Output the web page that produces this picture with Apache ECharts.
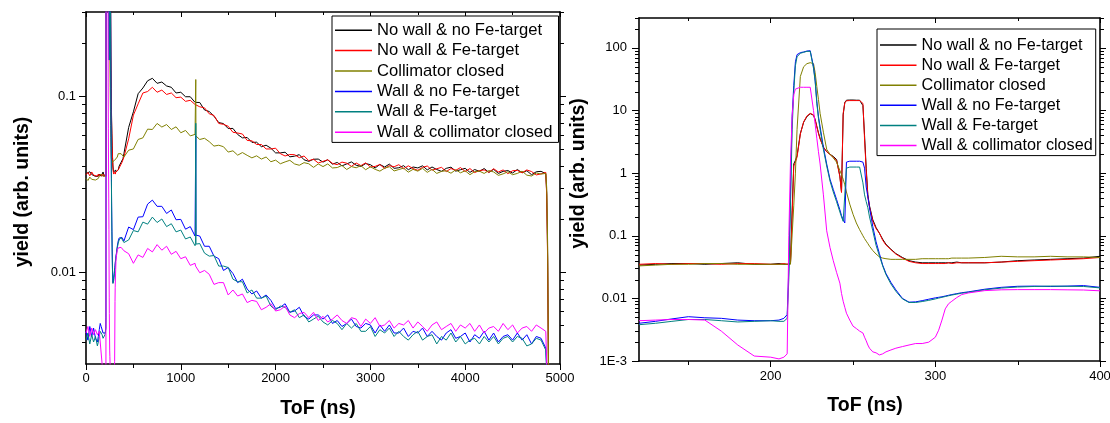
<!DOCTYPE html>
<html>
<head>
<meta charset="utf-8">
<script src="https://cdn.jsdelivr.net/npm/echarts@6/dist/echarts.min.js"></script>
<style>
  html, body { margin: 0; padding: 0; background: #ffffff; }
  #chart { width: 1110px; height: 423px; }
</style>
</head>
<body>
<div id="chart"></div>
<script>
// ---------------------------------------------------------------
// Time-of-flight spectra, six measurement configurations.
// Left panel: full range 0-5000 ns; right panel: zoom 120-400 ns.
// ---------------------------------------------------------------

const seriesNames = [
  'No wall & no Fe-target',
  'No wall & Fe-target',
  'Collimator closed',
  'Wall & no Fe-target',
  'Wall & Fe-target',
  'Wall & collimator closed'
];

// ToF sampling points (ns)
const leftTofEarly = [0, 20, 40, 60, 80, 100];
const rightTof = [
  120, 130, 140, 150, 160, 170, 180, 190, 200, 205,
  208, 210, 211, 212, 213, 214, 215, 216, 218, 220,
  222, 224, 226, 227, 228, 229, 230, 232, 234, 236,
  238, 240, 242, 243, 244, 245, 246, 248, 250, 252,
  254, 255, 256, 257, 258, 259, 260, 262, 264, 266,
  268, 270, 273, 276, 280, 284, 288, 292, 296, 300,
  302, 304, 306, 308, 310, 313, 316, 320, 330, 340,
  350, 360, 370, 380, 390, 400
];
const leftTofLate = [
  450, 500, 550, 600, 650, 700, 750, 800, 850, 900,
  950, 1000, 1050, 1100, 1150, 1156, 1158, 1160, 1200, 1250,
  1300, 1350, 1400, 1450, 1500, 1550, 1600, 1650, 1700, 1750,
  1800, 1850, 1900, 1950, 2000, 2050, 2100, 2150, 2200, 2250,
  2300, 2350, 2400, 2450, 2500, 2550, 2600, 2650, 2700, 2750,
  2800, 2850, 2900, 2950, 3000, 3050, 3100, 3150, 3200, 3250,
  3300, 3350, 3400, 3450, 3500, 3550, 3600, 3650, 3700, 3750,
  3800, 3850, 3900, 3950, 4000, 4050, 4100, 4150, 4200, 4250,
  4300, 4350, 4400, 4450, 4500, 4550, 4600, 4650, 4700, 4750,
  4800, 4850, 4860, 4870, 4880
];

// --- No wall & no Fe-target ---
const noWallNoFeEarly = [0.0362, 0.0354, 0.0371, 0.0358, 0.0366, 0.0349];
const noWallNoFeFine = [
  0.034, 0.035, 0.036, 0.036, 0.035, 0.036, 0.037, 0.035, 0.035, 0.036,
  0.035, 0.035, 0.035, 0.036, 0.25, 1.4, 1.6, 1.9, 4.3, 6.5,
  8.0, 8.9, 8.4, 7.2, 5.6, 4.4, 3.6, 2.6, 2.2, 2.0,
  1.85, 1.65, 0.9, 0.5, 8.5, 13.5, 14.6, 14.7, 14.7, 14.6,
  14.6, 14.5, 12, 4, 1.2, 0.45, 0.3, 0.18, 0.135, 0.11,
  0.088, 0.073, 0.061, 0.052, 0.045, 0.040, 0.038, 0.037, 0.037, 0.037,
  0.037, 0.037, 0.037, 0.037, 0.037, 0.038, 0.037, 0.037, 0.037, 0.038,
  0.040, 0.041, 0.042, 0.043, 0.044, 0.047
];
const noWallNoFeLate = [
  0.0663, 0.0813, 0.103, 0.111, 0.122, 0.126, 0.118, 0.120, 0.114, 0.112,
  0.104, 0.105, 0.099, 0.099, 0.092, 0.093, 0.094, 0.092, 0.0918, 0.0833,
  0.0816, 0.0768, 0.0706, 0.0697, 0.0653, 0.0654, 0.0604, 0.0578, 0.0581, 0.0545,
  0.0546, 0.0515, 0.0525, 0.0505, 0.0475, 0.0475, 0.0479, 0.0451, 0.0455, 0.0464,
  0.0434, 0.0425, 0.0437, 0.0438, 0.0421, 0.0434, 0.0410, 0.0419, 0.0401, 0.0411,
  0.0422, 0.0404, 0.0398, 0.0413, 0.0407, 0.0390, 0.0408, 0.0395, 0.0410, 0.0388,
  0.0391, 0.0402, 0.0381, 0.0395, 0.0390, 0.0401, 0.0380, 0.0395, 0.0382, 0.0373,
  0.0388, 0.0394, 0.0374, 0.0381, 0.0388, 0.0368, 0.0382, 0.0373, 0.0387, 0.0368,
  0.0383, 0.0363, 0.0373, 0.0377, 0.0365, 0.0382, 0.0366, 0.0376, 0.0357, 0.0371,
  0.0373, 0.0362, 0.028, 0.012, 0.002
];

// --- No wall & Fe-target ---
const noWallFeEarly = [0.0357, 0.0368, 0.0352, 0.0370, 0.0355, 0.0364];
const noWallFeFine = [
  0.035, 0.036, 0.035, 0.036, 0.036, 0.035, 0.036, 0.036, 0.035, 0.035,
  0.036, 0.035, 0.036, 0.036, 0.2, 1.3, 1.5, 1.8, 4.2, 6.6,
  8.2, 9.0, 8.5, 7.0, 5.5, 4.3, 3.5, 2.6, 2.2, 2.0,
  1.8, 1.6, 0.88, 0.49, 9, 13.2, 14.3, 14.4, 14.4, 14.4,
  14.4, 14.3, 13, 3.5, 1.1, 0.42, 0.29, 0.17, 0.13, 0.11,
  0.085, 0.071, 0.060, 0.051, 0.044, 0.039, 0.037, 0.036, 0.036, 0.036,
  0.036, 0.036, 0.036, 0.037, 0.036, 0.037, 0.037, 0.037, 0.037, 0.038,
  0.039, 0.040, 0.041, 0.042, 0.043, 0.045
];
const noWallFeLate = [
  0.0571, 0.0778, 0.0902, 0.104, 0.106, 0.112, 0.105, 0.108, 0.102, 0.104,
  0.0978, 0.0985, 0.0932, 0.0945, 0.0895, 0.0905, 0.0900, 0.0908, 0.0868, 0.0856,
  0.0792, 0.0775, 0.0698, 0.0690, 0.0673, 0.0622, 0.0616, 0.0608, 0.0559, 0.0556,
  0.0530, 0.0530, 0.0500, 0.0500, 0.0505, 0.0470, 0.0456, 0.0465, 0.0464, 0.0446,
  0.0456, 0.0429, 0.0437, 0.0416, 0.0425, 0.0434, 0.0414, 0.0407, 0.0421, 0.0415,
  0.0398, 0.0416, 0.0402, 0.0417, 0.0395, 0.0398, 0.0408, 0.0387, 0.0402, 0.0396,
  0.0407, 0.0386, 0.0401, 0.0387, 0.0378, 0.0393, 0.0400, 0.0379, 0.0386, 0.0393,
  0.0372, 0.0387, 0.0378, 0.0392, 0.0372, 0.0387, 0.0367, 0.0377, 0.0380, 0.0368,
  0.0386, 0.0370, 0.0380, 0.0362, 0.0376, 0.0378, 0.0366, 0.0380, 0.0372, 0.0356,
  0.0361, 0.0368, 0.027, 0.011, 0.002
];

// --- Collimator closed ---
const collClosedEarly = [0.0340, 0.0331, 0.0346, 0.0336, 0.0343, 0.0333];
const collClosedFine = [
  0.033, 0.034, 0.035, 0.035, 0.036, 0.036, 0.035, 0.035, 0.035, 0.035,
  0.035, 0.035, 0.035, 0.035, 0.035, 0.3, 1.0, 5, 35, 50,
  56, 58, 56, 40, 24, 15, 9, 4.5, 2.4, 2.0,
  1.75, 1.5, 1.1, 0.95, 0.8, 0.65, 0.5, 0.32, 0.22, 0.16,
  0.125, 0.112, 0.100, 0.090, 0.082, 0.075, 0.068, 0.058, 0.051, 0.046,
  0.044, 0.043, 0.042, 0.042, 0.042, 0.042, 0.042, 0.043, 0.043, 0.043,
  0.043, 0.043, 0.043, 0.043, 0.044, 0.044, 0.044, 0.044, 0.045, 0.047,
  0.046, 0.046, 0.047, 0.046, 0.046, 0.045
];
const collClosedLate = [
  0.0492, 0.0500, 0.0566, 0.0578, 0.0648, 0.0645, 0.0698, 0.0666, 0.0688, 0.0645,
  0.0668, 0.0618, 0.0637, 0.0593, 0.0605, 0.0590, 0.124, 0.0592, 0.0566, 0.0575,
  0.0550, 0.0519, 0.0525, 0.0515, 0.0480, 0.0488, 0.0461, 0.0477, 0.0460, 0.0445,
  0.0457, 0.0438, 0.0450, 0.0423, 0.0432, 0.0412, 0.0422, 0.0431, 0.0411, 0.0404,
  0.0418, 0.0412, 0.0393, 0.0411, 0.0397, 0.0411, 0.0390, 0.0392, 0.0403, 0.0382,
  0.0397, 0.0391, 0.0402, 0.0381, 0.0396, 0.0383, 0.0374, 0.0389, 0.0396, 0.0375,
  0.0382, 0.0389, 0.0369, 0.0383, 0.0374, 0.0388, 0.0368, 0.0383, 0.0363, 0.0373,
  0.0376, 0.0364, 0.0381, 0.0366, 0.0376, 0.0357, 0.0372, 0.0374, 0.0363, 0.0377,
  0.0370, 0.0354, 0.0361, 0.0371, 0.0357, 0.0363, 0.0374, 0.0355, 0.0351, 0.0365,
  0.0360, 0.0363, 0.030, 0.014, 0.002
];

// --- Wall & no Fe-target ---
const wallNoFeEarly = [0.0046, 0.0041, 0.0049, 0.0043, 0.0048, 0.0042];
const wallNoFeFine = [
  0.0040, 0.0043, 0.0047, 0.0051, 0.0049, 0.0048, 0.0045, 0.0044, 0.0044, 0.0045,
  0.0048, 0.0055, 0.03, 0.5, 8, 25, 60, 78, 84, 86,
  89, 90, 50, 30, 14, 8, 5.5, 2.6, 1.4, 0.8,
  0.55, 0.38, 0.26, 0.21, 0.18, 0.16, 1.5, 1.55, 1.55, 1.55,
  1.55, 1.55, 1.5, 1.2, 0.6, 0.42, 0.28, 0.14, 0.08, 0.052,
  0.034, 0.025, 0.018, 0.0137, 0.0100, 0.0087, 0.0088, 0.0092, 0.0097, 0.0102,
  0.0104, 0.0106, 0.0109, 0.0112, 0.0115, 0.0119, 0.0123, 0.0127, 0.0140, 0.0150,
  0.0156, 0.0157, 0.0155, 0.0157, 0.0160, 0.0150
];
const wallNoFeLate = [
  0.0180, 0.0174, 0.0205, 0.0206, 0.0243, 0.0256, 0.0236, 0.0236, 0.0215, 0.0225,
  0.0198, 0.0199, 0.0175, 0.0181, 0.0160, 0.0163, 0.059, 0.0162, 0.0160, 0.0140,
  0.0140, 0.0123, 0.0119, 0.0102, 0.0106, 0.0098, 0.0087, 0.0091, 0.0080, 0.0075,
  0.0078, 0.0071, 0.0074, 0.0069, 0.0062, 0.0063, 0.0066, 0.0059, 0.0060, 0.0063,
  0.0056, 0.0054, 0.0057, 0.0057, 0.0054, 0.0057, 0.0051, 0.0053, 0.0049, 0.0051,
  0.0054, 0.0049, 0.0048, 0.0051, 0.0050, 0.0045, 0.0050, 0.0046, 0.0050, 0.0045,
  0.0045, 0.0048, 0.0043, 0.0046, 0.0045, 0.0048, 0.0043, 0.0046, 0.0043, 0.0041,
  0.0045, 0.0047, 0.0042, 0.0043, 0.0045, 0.0040, 0.0044, 0.0042, 0.0046, 0.0041,
  0.0045, 0.0040, 0.0043, 0.0044, 0.0041, 0.0045, 0.0041, 0.0044, 0.0039, 0.0043,
  0.0042, 0.0037, 0.0028, 0.0015, 0.001
];

// --- Wall & Fe-target ---
const wallFeEarly = [0.0041, 0.0045, 0.0039, 0.0044, 0.0040, 0.0043];
const wallFeFine = [
  0.0038, 0.0040, 0.0043, 0.0046, 0.0046, 0.0044, 0.0042, 0.0043, 0.0044, 0.0043,
  0.0043, 0.0048, 0.02, 0.3, 5, 20, 52, 72, 82, 85,
  88, 88, 47, 29, 13, 7.5, 5, 2.4, 1.3, 0.75,
  0.5, 0.35, 0.24, 0.2, 0.17, 0.16, 1.2, 1.25, 1.25, 1.25,
  1.25, 1.2, 0.7, 0.45, 0.35, 0.28, 0.2, 0.12, 0.07, 0.048,
  0.033, 0.024, 0.017, 0.013, 0.0098, 0.0086, 0.0086, 0.0089, 0.0093, 0.0098,
  0.0101, 0.0104, 0.0107, 0.0110, 0.0113, 0.0117, 0.0121, 0.0125, 0.0137, 0.0146,
  0.0152, 0.0155, 0.0157, 0.0156, 0.0155, 0.0147
];
const wallFeLate = [
  0.0152, 0.0172, 0.0169, 0.0192, 0.0187, 0.0205, 0.0191, 0.0200, 0.0181, 0.0188,
  0.0169, 0.0173, 0.0154, 0.0158, 0.0141, 0.0145, 0.070, 0.0144, 0.0145, 0.0128,
  0.0123, 0.0124, 0.0108, 0.0108, 0.0106, 0.0091, 0.0088, 0.0088, 0.0076, 0.0079,
  0.0071, 0.0071, 0.0073, 0.0064, 0.0061, 0.0064, 0.0063, 0.0059, 0.0061, 0.0055,
  0.0057, 0.0052, 0.0054, 0.0056, 0.0052, 0.0050, 0.0053, 0.0051, 0.0047, 0.0051,
  0.0048, 0.0051, 0.0046, 0.0046, 0.0049, 0.0043, 0.0047, 0.0045, 0.0048, 0.0043,
  0.0046, 0.0043, 0.0041, 0.0044, 0.0046, 0.0041, 0.0043, 0.0044, 0.0039, 0.0043,
  0.0041, 0.0045, 0.0040, 0.0043, 0.0039, 0.0041, 0.0042, 0.0039, 0.0043, 0.0040,
  0.0043, 0.0039, 0.0042, 0.0043, 0.0040, 0.0043, 0.0042, 0.0038, 0.0039, 0.0042,
  0.0041, 0.0036, 0.0027, 0.0015, 0.001
];

// --- Wall & collimator closed ---
const wallCollClosedEarly = [0.0045, 0.0049, 0.0043, 0.0048, 0.0044, 0.0047];
const wallCollClosedFine = [
  0.0044, 0.0045, 0.0046, 0.0046, 0.0045, 0.0030, 0.0018, 0.0012, 0.00115, 0.00108,
  0.00115, 0.0013, 0.1, 1.5, 8, 18, 22, 23, 23.5, 23.5,
  23.5, 23.5, 10, 6, 3.6, 2.2, 1.4, 0.45, 0.12, 0.065,
  0.04, 0.026, 0.0175, 0.012, 0.009, 0.0072, 0.0058, 0.0045, 0.0036, 0.0033,
  0.0030, 0.0029, 0.0028, 0.0024, 0.0021, 0.0018, 0.0016, 0.0014, 0.00135, 0.00125,
  0.0013, 0.0014, 0.0015, 0.0016, 0.0017, 0.0018, 0.0019, 0.0019, 0.0020, 0.0024,
  0.0031, 0.0045, 0.0068, 0.0082, 0.0090, 0.0103, 0.0115, 0.0122, 0.0133, 0.0137,
  0.0138, 0.0138, 0.0138, 0.0137, 0.0136, 0.0132
];
const wallCollClosedLate = [
  0.0127, 0.0112, 0.0125, 0.0121, 0.0136, 0.0130, 0.0143, 0.0133, 0.0140, 0.0126,
  0.0131, 0.0119, 0.0122, 0.0109, 0.0112, 0.0108, 0.0107, 0.0107, 0.0099, 0.0102,
  0.0097, 0.0085, 0.0087, 0.0087, 0.0074, 0.0079, 0.0073, 0.0075, 0.0067, 0.0069,
  0.0068, 0.0061, 0.0063, 0.0066, 0.0060, 0.0061, 0.0064, 0.0057, 0.0055, 0.0058,
  0.0059, 0.0055, 0.0059, 0.0053, 0.0056, 0.0052, 0.0054, 0.0057, 0.0053, 0.0051,
  0.0055, 0.0054, 0.0049, 0.0054, 0.0051, 0.0055, 0.0049, 0.0050, 0.0053, 0.0048,
  0.0051, 0.0050, 0.0053, 0.0048, 0.0052, 0.0049, 0.0046, 0.0050, 0.0052, 0.0047,
  0.0049, 0.0051, 0.0046, 0.0050, 0.0048, 0.0051, 0.0046, 0.0050, 0.0045, 0.0048,
  0.0049, 0.0046, 0.0051, 0.0047, 0.0050, 0.0045, 0.0048, 0.0049, 0.0046, 0.0050,
  0.0048, 0.0046, 0.0030, 0.0015, 0.001
];

// Axis ticks and labels
const leftYMajor = [0.01, 0.1];
const leftYMajorLabels = ['0.01', '0.1'];
const leftYMinor = [0.004, 0.005, 0.006, 0.007, 0.008, 0.009,
  0.02, 0.03, 0.04, 0.05, 0.06, 0.07, 0.08, 0.09, 0.2, 0.3];
const rightYMajor = [0.001, 0.01, 0.1, 1, 10, 100];
const rightYMajorLabels = ['1E-3', '0.01', '0.1', '1', '10', '100'];
const rightYMinor = [
  0.002, 0.003, 0.004, 0.005, 0.006, 0.007, 0.008, 0.009,
  0.02, 0.03, 0.04, 0.05, 0.06, 0.07, 0.08, 0.09,
  0.2, 0.3, 0.4, 0.5, 0.6, 0.7, 0.8, 0.9,
  2, 3, 4, 5, 6, 7, 8, 9,
  20, 30, 40, 50, 60, 70, 80, 90, 200, 300
];
const rightXMajor = [200, 300, 400];
const rightXMinor = [150, 250, 350];

const seriesColors = ['#000000', '#ff0000', '#808000', '#0000ff', '#008080', '#ff00ff'];

// ---------------------------------------------------------------
const FONT = '"Liberation Sans", Arial, Helvetica, sans-serif';

// axis ranges of both panels
const LEFT_X = [0, 5000], LEFT_Y = [0.003, 0.3];
const RIGHT_X = [120, 400], RIGHT_Y = [0.001, 300];

const early = [noWallNoFeEarly, noWallFeEarly, collClosedEarly, wallNoFeEarly, wallFeEarly, wallCollClosedEarly];
const fine = [noWallNoFeFine, noWallFeFine, collClosedFine, wallNoFeFine, wallFeFine, wallCollClosedFine];
const late = [noWallNoFeLate, noWallFeLate, collClosedLate, wallNoFeLate, wallFeLate, wallCollClosedLate];

function zip(xs, ys) { return xs.map((x, i) => [x, ys[i]]); }

function labelLookup(ticks, labels) {
  return function (v) {
    let best = 0;
    for (let i = 1; i < ticks.length; i++) {
      if (Math.abs(Math.log10(ticks[i] / v)) < Math.abs(Math.log10(ticks[best] / v))) best = i;
    }
    return labels[best];
  };
}

const solidLine = { show: true, onZero: false, lineStyle: { color: '#000', width: 1.6 } };
const tickStyle = { color: '#000', width: 1 };
const labelStyle = { fontFamily: FONT, fontSize: 13, color: '#000' };
const titleStyle = { fontFamily: FONT, fontSize: 19.5, fontWeight: 'bold', color: '#000' };

function xAxisDef(o) {
  return Object.assign({
    type: 'value',
    axisLine: solidLine,
    splitLine: { show: false },
    minorSplitLine: { show: false },
    axisLabel: { show: false },
    nameMoveOverlap: false
  }, o);
}
function yAxisDef(o) {
  return Object.assign({
    type: 'log',
    logBase: 10,
    axisLine: solidLine,
    splitLine: { show: false },
    minorSplitLine: { show: false },
    minorTick: { show: false },
    axisLabel: { show: false },
    nameMoveOverlap: false
  }, o);
}

const xAxes = [
  // 0: left panel, bottom
  xAxisDef({
    gridIndex: 0, position: 'bottom', min: LEFT_X[0], max: LEFT_X[1], interval: 1000,
    axisTick: { show: true, inside: false, length: 6, lineStyle: tickStyle },
    minorTick: { show: true, splitNumber: 2, length: 4, lineStyle: tickStyle },
    axisLabel: Object.assign({ show: true, margin: 8, formatter: v => String(v) }, labelStyle),
    name: 'ToF (ns)', nameLocation: 'middle', nameGap: 35,
    nameTextStyle: Object.assign({ padding: [0, 10, 0, 0] }, titleStyle)
  }),
  // 1: left panel, top mirror
  xAxisDef({
    gridIndex: 0, position: 'top', min: LEFT_X[0], max: LEFT_X[1], interval: 1000,
    axisTick: { show: true, inside: true, length: 5, lineStyle: tickStyle },
    minorTick: { show: true, splitNumber: 2, length: 3, lineStyle: tickStyle }
  }),
  // 2: right panel, bottom
  xAxisDef({
    gridIndex: 1, position: 'bottom', min: RIGHT_X[0], max: RIGHT_X[1],
    axisTick: { show: true, inside: false, length: 6, customValues: rightXMajor, lineStyle: tickStyle },
    minorTick: { show: false },
    axisLabel: Object.assign({ show: true, margin: 9, customValues: rightXMajor, formatter: v => String(v) }, labelStyle),
    name: 'ToF (ns)', nameLocation: 'middle', nameGap: 35,
    nameTextStyle: Object.assign({ padding: [0, 9, 0, 0] }, titleStyle)
  }),
  // 3: right panel, top mirror
  xAxisDef({
    gridIndex: 1, position: 'top', min: RIGHT_X[0], max: RIGHT_X[1],
    axisTick: { show: true, inside: true, length: 5, customValues: rightXMajor, lineStyle: tickStyle },
    minorTick: { show: false }
  })
];

const yAxes = [
  // 0: left panel, left
  yAxisDef({
    gridIndex: 0, position: 'left', min: LEFT_Y[0], max: LEFT_Y[1],
    axisTick: { show: true, inside: false, length: 7, customValues: leftYMajor, lineStyle: tickStyle },
    axisLabel: Object.assign({ show: true, margin: 10, customValues: leftYMajor,
      formatter: labelLookup(leftYMajor, leftYMajorLabels) }, labelStyle),
    name: 'yield (arb. units)', nameLocation: 'middle', nameGap: 53,
    nameTextStyle: Object.assign({ padding: [0, 8, 0, 0] }, titleStyle)
  }),
  // 1: left panel, right mirror
  yAxisDef({
    gridIndex: 0, position: 'right', min: LEFT_Y[0], max: LEFT_Y[1],
    axisTick: { show: true, inside: false, length: 6, customValues: leftYMajor, lineStyle: tickStyle }
  }),
  // 2: right panel, left
  yAxisDef({
    gridIndex: 1, position: 'left', min: RIGHT_Y[0], max: RIGHT_Y[1],
    axisTick: { show: true, inside: false, length: 7, customValues: rightYMajor, lineStyle: tickStyle },
    axisLabel: Object.assign({ show: true, margin: 12, customValues: rightYMajor,
      formatter: labelLookup(rightYMajor, rightYMajorLabels) }, labelStyle),
    name: 'yield (arb. units)', nameLocation: 'middle', nameGap: 50,
    nameTextStyle: Object.assign({ padding: [0, 0, 0, 32] }, titleStyle)
  }),
  // 3: right panel, right mirror
  yAxisDef({
    gridIndex: 1, position: 'right', min: RIGHT_Y[0], max: RIGHT_Y[1],
    axisTick: { show: true, inside: false, length: 6, customValues: rightYMajor, lineStyle: tickStyle }
  })
];

const series = [];
seriesNames.forEach((name, i) => {
  const full = zip(leftTofEarly, early[i]).concat(zip(rightTof, fine[i]), zip(leftTofLate, late[i]));
  series.push({
    name, type: 'line', xAxisIndex: 0, yAxisIndex: 0, data: full,
    symbol: 'none', showSymbol: false, clip: true, animation: false,
    lineStyle: { color: seriesColors[i], width: 1 }, itemStyle: { color: seriesColors[i] }
  });
});
seriesNames.forEach((name, i) => {
  series.push({
    name, type: 'line', xAxisIndex: 2, yAxisIndex: 2, data: zip(rightTof, fine[i]),
    symbol: 'none', showSymbol: false, clip: true, animation: false,
    lineStyle: { color: seriesColors[i], width: 1 }, itemStyle: { color: seriesColors[i] }
  });
});

function legendDef(left, top, padding, itemWidth, fontSize, lineHeight) {
  return {
    orient: 'vertical', left, top, padding,
    icon: 'rect', itemWidth, itemHeight: 1.5, itemGap: 0,
    backgroundColor: '#ffffff', borderColor: '#000000', borderWidth: 1, borderRadius: 0,
    selectedMode: false,
    textStyle: { fontFamily: FONT, fontSize, lineHeight, color: '#000' },
    data: seriesNames
  };
}

const chart = echarts.init(document.getElementById('chart'), null, { renderer: 'canvas' });
chart.setOption({
  animation: false,
  backgroundColor: '#ffffff',
  grid: [
    { left: 86, top: 12, width: 474, height: 352, containLabel: false, outerBoundsMode: 'none' },
    { left: 639, top: 18, width: 461, height: 343, containLabel: false, outerBoundsMode: 'none' }
  ],
  legend: [
    legendDef(332, 16, [4, 6, 0, 3], 37, 16.6, 20.4),
    legendDef(877, 29, [6, 3, 0, 3], 36.5, 16.2, 20.1)
  ],
  xAxis: xAxes,
  yAxis: yAxes,
  series
});

// Minor ticks (2..9 per decade on the log axes, half-steps on the zoomed
// ToF axis), positioned with the chart's own coordinate conversion.
function seg(x1, y1, x2, y2) {
  return { type: 'line', silent: true, z: 50,
    shape: { x1, y1, x2, y2 }, style: { stroke: '#000', lineWidth: 1 } };
}
const minorEls = [];
function addYMinor(finder, xRange, values, len) {
  values.forEach(v => {
    const pl = chart.convertToPixel(finder, [xRange[0], v]);
    const pr = chart.convertToPixel(finder, [xRange[1], v]);
    if (!pl || !pr) return;
    const y = Math.round(pl[1]) + 0.5;
    minorEls.push(seg(pl[0] - len, y, pl[0], y));
    minorEls.push(seg(pr[0], y, pr[0] + len, y));
  });
}
function addXMinor(finder, yRange, values, lenOut, lenIn) {
  values.forEach(v => {
    const pb = chart.convertToPixel(finder, [v, yRange[0]]);
    const pt = chart.convertToPixel(finder, [v, yRange[1]]);
    if (!pb || !pt) return;
    const x = Math.round(pb[0]) + 0.5;
    minorEls.push(seg(x, pb[1], x, pb[1] + lenOut));
    minorEls.push(seg(x, pt[1], x, pt[1] + lenIn));
  });
}
addYMinor({ xAxisIndex: 0, yAxisIndex: 0 }, LEFT_X, leftYMinor, 4);
addYMinor({ xAxisIndex: 2, yAxisIndex: 2 }, RIGHT_X, rightYMinor, 4);
addXMinor({ xAxisIndex: 2, yAxisIndex: 2 }, RIGHT_Y, rightXMinor, 4, 3);
chart.setOption({ graphic: { elements: minorEls } });
</script>
</body>
</html>
